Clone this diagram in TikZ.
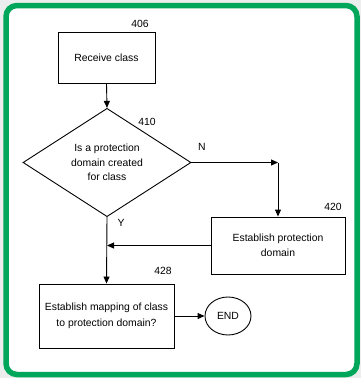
\documentclass[tikz,border=0pt]{standalone}
\usepackage{fontspec}
\setmainfont{Liberation Sans}
\usetikzlibrary{shapes.geometric,arrows.meta}
\definecolor{framegreen}{RGB}{0,166,90}
\definecolor{pagegray}{RGB}{236,238,238}
\tikzset{
  stepbox/.style={draw=black, line width=0.9pt, rectangle, inner sep=0pt, align=center, font=\fontsize{10.4}{15.5}\selectfont},
  decision/.style={draw=black, line width=0.9pt, diamond, inner sep=0pt, align=center, font=\fontsize{10.4}{14.5}\selectfont},
  terminal/.style={draw=black, line width=0.9pt, ellipse, inner sep=0pt, font=\fontsize{10.4}{12}\selectfont},
  tag/.style={font=\fontsize{10.4}{12}\selectfont, inner sep=0pt},
  flow/.style={draw=black, line width=0.9pt, -{Triangle[length=7pt,width=6pt]}},
}
\begin{document}
\begin{tikzpicture}[x=1pt,y=-1pt]
  % page and green frame
  \fill[pagegray] (0,0) rectangle (361,378);
  \draw[framegreen, line width=5.5pt, fill=white, rounded corners=11pt] (6,5.5) rectangle (357,374.5);
  \useasboundingbox (0,0) rectangle (361,378);

  % process steps
  \node[stepbox, minimum width=97pt, minimum height=51pt] (b406) at (106.5,57.5) {Receive class};
  \node[decision, minimum width=168pt, minimum height=101pt] (d410) at (107,162.5)
    {Is a protection\\domain created\\for class};
  \node[stepbox, minimum width=134pt, minimum height=57pt] (b420) at (278,245.5)
    {Establish protection\\domain};
  \node[stepbox, minimum width=135pt, minimum height=64pt] (b428) at (106.5,316)
    {Establish mapping of class\\to protection domain?};
  \node[terminal, minimum width=46pt, minimum height=38pt] (end) at (228,316) {END};

  % reference numerals and branch labels
  \node[tag] (t406) at (140,24) {406};
  \node[tag] (t410) at (147,122) {410};
  \node[tag] (tN) at (202,147) {N};
  \node[tag] (t420) at (333,207) {420};
  \node[tag] (tY) at (121,223) {Y};
  \node[tag] (t428) at (163,271) {428};

  % connectors
  \coordinate (cn) at (b420.north |- d410.east);
  \coordinate (jy) at (d410.south |- b420.west);
  \draw[flow] (b406.south) -- (d410.north);
  \draw[flow] (d410.east) -- (cn);
  \draw[flow] (cn) -- (b420.north);
  \draw[flow] (b420.west) -- (jy);
  \draw[flow] (d410.south) -- (b428.north);
  \draw[flow] (b428.east) -- (end.west);
\end{tikzpicture}
\end{document}
